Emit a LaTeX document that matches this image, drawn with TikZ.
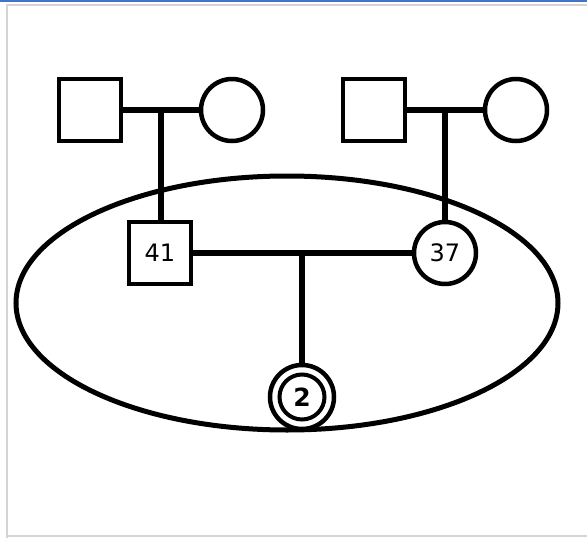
\documentclass[tikz,border=0pt]{standalone}
\usepackage{fontspec}
\setmainfont{DejaVu Sans}
\definecolor{topblue}{RGB}{68,114,196}
\definecolor{framegray}{RGB}{212,212,212}
\tikzset{
  male/.style={draw=black, line width=4.5pt, fill=white, minimum size=62pt, inner sep=0pt, font=\fontsize{24}{26}\selectfont},
  female/.style={draw=black, line width=4.5pt, fill=white, circle, minimum size=62pt, inner sep=0pt, font=\fontsize{24}{26}\selectfont},
  link/.style={line width=6pt, draw=black},
}
\begin{document}
\begin{tikzpicture}[x=1pt,y=-1pt]
\useasboundingbox (0,0) rectangle (587,538);
\fill[white] (0,0) rectangle (587,538);
\draw[framegray, line width=2pt] (7,540) -- (7,5) -- (590,5);
\draw[framegray, line width=1.5pt] (7,536) -- (590,536);
\fill[topblue] (0,0) rectangle (587,2);
% ellipse
\draw[line width=5pt] (287,303) ellipse [x radius=271, y radius=127];
% nodes
\node[male] (gf1) at (90,110) {};
\node[female] (gm1) at (232,110) {};
\node[male] (gf2) at (374,110) {};
\node[female] (gm2) at (516,110) {};
\node[male] (p1) at (160,253) {41};
\node[female] (p2) at (445,253) {37};
\node[female, minimum size=64pt] (c) at (302,397) {};
\node[female, minimum size=45pt, line width=4pt, font=\fontsize{25}{27}\selectfont\bfseries] (cin) at (c.center) {2};
% connectors
\draw[link] (gf1.east) -- (gm1.west);
\draw[link] (gf2.east) -- (gm2.west);
\draw[link] (p1.east) -- (p2.west);
\coordinate (j1) at (161,110);
\coordinate (j2) at (445,110);
\coordinate (j3) at (302,253);
\draw[link] (j1) -- (j1 |- p1.north);
\draw[link] (j2) -- (p2.north);
\draw[link] (j3) -- (c.north);
\end{tikzpicture}
\end{document}
